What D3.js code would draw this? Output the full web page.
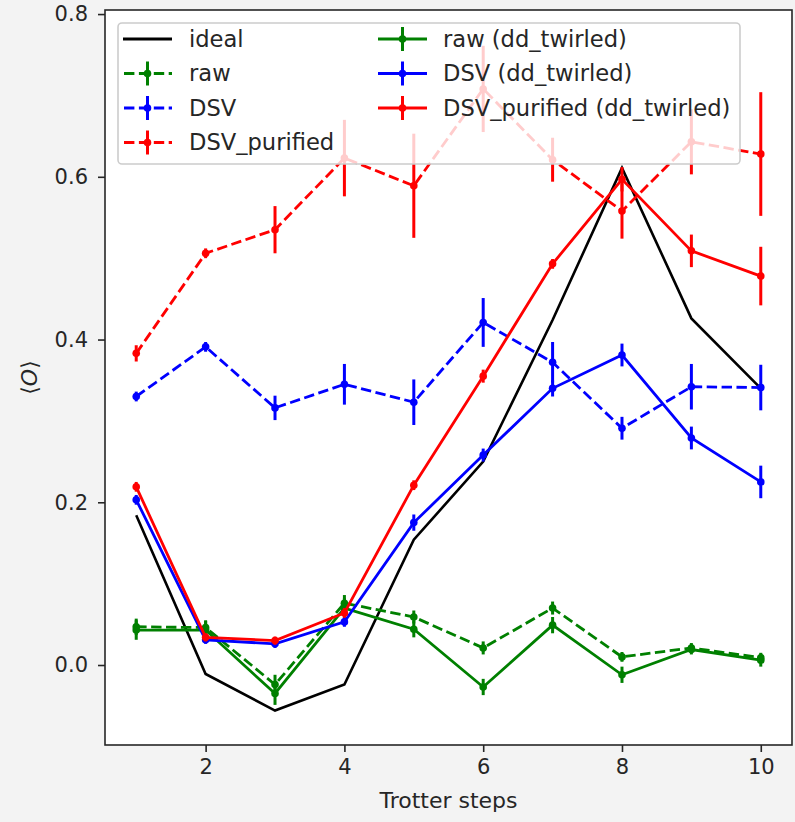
<!DOCTYPE html>
<html>
<head>
<meta charset="utf-8">
<script src="https://cdn.jsdelivr.net/npm/d3@7"></script>
<style>
  html, body { margin: 0; padding: 0; background: #f3f3f3; }
  svg { display: block; }
  text { font-family: "DejaVu Sans", sans-serif; fill: #262626; }
</style>
</head>
<body>
<svg id="chart" width="795" height="822"></svg>
<script>
// ---- data ----
const steps = [1, 2, 3, 4, 5, 6, 7, 8, 9, 10];
const ideal = [0.184, -0.011, -0.056, -0.024, 0.154, 0.250, 0.424, 0.611, 0.426, 0.340];
const raw = [0.047, 0.046, -0.024, 0.076, 0.059, 0.021, 0.070, 0.010, 0.021, 0.009];
const rawErr = [0.010, 0.008, 0.012, 0.010, 0.008, 0.008, 0.008, 0.006, 0.006, 0.006];
const dsv = [0.330, 0.391, 0.316, 0.345, 0.323, 0.421, 0.372, 0.291, 0.342, 0.341];
const dsvErr = [0.006, 0.006, 0.015, 0.025, 0.028, 0.030, 0.025, 0.014, 0.028, 0.028];
const dsvPur = [0.383, 0.506, 0.535, 0.623, 0.589, 0.708, 0.621, 0.558, 0.643, 0.628];
const dsvPurErr = [0.010, 0.006, 0.029, 0.047, 0.064, 0.053, 0.027, 0.034, 0.040, 0.076];
const rawDD = [0.043, 0.043, -0.035, 0.070, 0.044, -0.027, 0.049, -0.012, 0.019, 0.006];
const rawDDErr = [0.012, 0.012, 0.014, 0.012, 0.010, 0.010, 0.010, 0.010, 0.006, 0.008];
const dsvDD = [0.203, 0.031, 0.026, 0.053, 0.175, 0.258, 0.340, 0.381, 0.279, 0.225];
const dsvDDErr = [0.006, 0.005, 0.005, 0.006, 0.010, 0.008, 0.010, 0.014, 0.014, 0.020];
const dsvPurDD = [0.219, 0.034, 0.030, 0.064, 0.221, 0.355, 0.493, 0.597, 0.509, 0.478];
const dsvPurDDErr = [0.006, 0.005, 0.005, 0.006, 0.006, 0.008, 0.006, 0.015, 0.020, 0.036];
const xTicks = [2, 4, 6, 8, 10];
const yTicks = [0.0, 0.2, 0.4, 0.6, 0.8];

const series = [
  { name: "ideal", values: ideal, err: null, color: "#000000", dash: false },
  { name: "raw", values: raw, err: rawErr, color: "#008000", dash: true },
  { name: "DSV", values: dsv, err: dsvErr, color: "#0000ff", dash: true },
  { name: "DSV_purified", values: dsvPur, err: dsvPurErr, color: "#ff0000", dash: true },
  { name: "raw (dd_twirled)", values: rawDD, err: rawDDErr, color: "#008000", dash: false },
  { name: "DSV (dd_twirled)", values: dsvDD, err: dsvDDErr, color: "#0000ff", dash: false },
  { name: "DSV_purified (dd_twirled)", values: dsvPurDD, err: dsvPurDDErr, color: "#ff0000", dash: false }
];

// ---- layout ----
const L = 105, R = 792, T = 10, B = 745;
const FS = 22, LFS = 22.6, TFS = 21;
const svg = d3.select("#chart");

const x = d3.scaleLinear().domain([0.55, 10.45]).range([L, R]);
const y = d3.scaleLinear().domain([-0.0983, 0.805]).range([B, T]);

svg.append("rect").attr("x", L).attr("y", T).attr("width", R - L).attr("height", B - T).attr("fill", "#ffffff");

const clipId = "plotclip";
svg.append("clipPath").attr("id", clipId).append("rect")
  .attr("x", L).attr("y", T).attr("width", R - L).attr("height", B - T);

const plot = svg.append("g").attr("clip-path", `url(#${clipId})`);
const line = d3.line().x((d, i) => x(steps[i])).y(d => y(d));

series.forEach(s => {
  const g = plot.append("g");
  if (s.err) {
    g.selectAll("line.err").data(s.values).enter().append("line")
      .attr("x1", (d, i) => x(steps[i])).attr("x2", (d, i) => x(steps[i]))
      .attr("y1", (d, i) => y(d - s.err[i])).attr("y2", (d, i) => y(d + s.err[i]))
      .attr("stroke", s.color).attr("stroke-width", 3);
  }
  g.append("path").datum(s.values).attr("d", line)
    .attr("fill", "none").attr("stroke", s.color)
    .attr("stroke-width", s.err ? 2.8 : 2.6)
    .attr("stroke-dasharray", s.dash ? "10.4,4.5" : null)
    .attr("stroke-linejoin", "miter");
  if (s.err) {
    g.selectAll("circle").data(s.values).enter().append("circle")
      .attr("cx", (d, i) => x(steps[i])).attr("cy", d => y(d))
      .attr("r", 3.8).attr("fill", s.color);
  }
});

// ---- axes ----
const xAxis = d3.axisBottom(x).tickValues(xTicks).tickSize(7).tickPadding(7).tickFormat(d3.format("d"));
const yAxis = d3.axisLeft(y).tickValues(yTicks).tickSize(7).tickPadding(10).tickFormat(d3.format(".1f"));

const gx = svg.append("g").attr("transform", `translate(0,${B})`).call(xAxis);
const gy = svg.append("g").attr("transform", `translate(${L},0)`).call(yAxis);
[gx, gy].forEach(g => {
  g.select(".domain").remove();
  g.selectAll(".tick line").attr("stroke", "#262626").attr("stroke-width", 1.6);
  g.selectAll(".tick text").attr("font-size", TFS).attr("font-family", "DejaVu Sans").attr("fill", "#262626");
});

svg.append("rect").attr("x", L).attr("y", T).attr("width", R - L).attr("height", B - T)
  .attr("fill", "none").attr("stroke", "#262626").attr("stroke-width", 1.6);

svg.append("text").attr("x", (L + R) / 2).attr("y", 808).attr("text-anchor", "middle")
  .attr("font-size", FS).text("Trotter steps");

const yl = svg.append("text").attr("transform", `translate(37,${(T + B) / 2}) rotate(-90)`)
  .attr("text-anchor", "middle").attr("font-size", FS);
yl.append("tspan").text("⟨");
yl.append("tspan").attr("font-style", "italic").text("O");
yl.append("tspan").text("⟩");

// ---- legend ----
const lg = svg.append("g");
lg.append("rect").attr("x", 118).attr("y", 23).attr("width", 622).attr("height", 141)
  .attr("rx", 4).attr("fill", "#ffffff").attr("fill-opacity", 0.8)
  .attr("stroke", "#cccccc").attr("stroke-width", 1.6);
const rowY = [39, 73.5, 108, 142.5];
const cols = [{ hx: 123, tx: 189 }, { hx: 378, tx: 443 }];
series.forEach((s, k) => {
  const c = cols[k < 4 ? 0 : 1];
  const ry = rowY[k < 4 ? k : k - 4];
  const item = lg.append("g");
  item.append("line").attr("x1", c.hx).attr("x2", c.hx + 49).attr("y1", ry).attr("y2", ry)
    .attr("stroke", s.color).attr("stroke-width", 2.8)
    .attr("stroke-dasharray", s.dash ? "10.4,4.5" : null)
    .attr("stroke-dashoffset", s.dash ? -1 : null);
  if (s.err) {
    item.append("line").attr("x1", c.hx + 24.5).attr("x2", c.hx + 24.5).attr("y1", ry - 12).attr("y2", ry + 12)
      .attr("stroke", s.color).attr("stroke-width", 3);
    item.append("circle").attr("cx", c.hx + 24.5).attr("cy", ry).attr("r", 3.8).attr("fill", s.color);
  }
  item.append("text").attr("x", c.tx).attr("y", ry).attr("dy", "0.35em")
    .attr("font-size", LFS).text(s.name);
});
</script>
</body>
</html>
